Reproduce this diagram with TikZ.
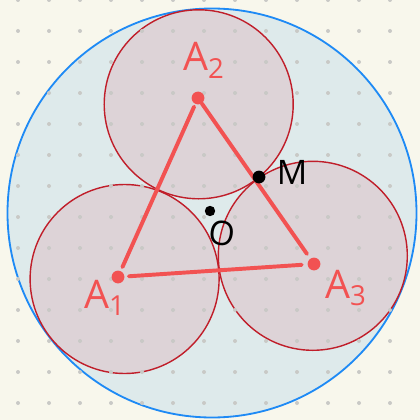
\documentclass[tikz,border=0pt]{standalone}
\usepackage{fontspec}
\setmainfont{Open Sans}
\definecolor{paper}{HTML}{F8F7EC}
\definecolor{griddot}{HTML}{C9C9C6}
\definecolor{bigfill}{HTML}{DEEAEB}
\definecolor{bigline}{HTML}{1E8AF5}
\definecolor{smallfill}{HTML}{DDD3D7}
\definecolor{smallline}{HTML}{C01E2A}
\definecolor{coral}{HTML}{F25252}

\begin{document}
\begin{tikzpicture}[x=0.025cm, y=-0.025cm,
    reddot/.style={circle, fill=coral, inner sep=0pt, minimum size=0.32cm},
    blackdot/.style={circle, fill=black, inner sep=0pt, minimum size=#1},
    edge/.style={coral, line width=2.8pt, line cap=round},
    redlabel/.style={coral, font=\fontsize{28}{30}\selectfont},
    blacklabel/.style={black, font=\fontsize{24}{26}\selectfont}]
            % Background
            \fill[paper] (0,0) rectangle (420,420);
            \useasboundingbox (0,0) rectangle (420,420);

            % Circles
            \filldraw[fill=bigfill, draw=bigline, line width=1.3pt] (212,213) circle (204.5);
            \filldraw[fill=smallfill, draw=smallline, line width=1pt] (198.7,104.3) circle (94.5);
            \filldraw[fill=smallfill, draw=smallline, line width=1pt] (124.6,279) circle (94.5);
            \filldraw[fill=smallfill, draw=smallline, line width=1pt] (312.8,255.8) circle (94.5);

            % Dot grid
            \foreach \i in {0,...,12}
                \foreach \j in {0,...,13}
                    \fill[griddot] (18+31*\i, 31*\j) circle (2);

            % Nodes
            \node[reddot] (A2) at (198,98) {};
            \node[reddot] (A1) at (118,277) {};
            \node[reddot] (A3) at (314,264) {};

            % Edges
            \draw[edge, shorten <=2pt, shorten >=3pt] (A2) -- (A1);
            \draw[edge, shorten <=0pt, shorten >=4pt] (A2) -- (A3);
            \draw[edge, shorten <=3pt, shorten >=4pt] (A1) -- (A3);

            % Points
            \node[blackdot=0.32cm] (M) at (259,177) {};
            \node[blackdot=0.26cm] (O) at (210,211) {};

            % Labels
            \node[redlabel] (labA2) at (204,60) {A\textsubscript{2}};
            \node[redlabel] (labA1) at (105,298) {A\textsubscript{1}};
            \node[redlabel] (labA3) at (346,288) {A\textsubscript{3}};
            \node[blacklabel] (labM) at (292,172) {M};
            \node[blacklabel, rotate=-8] (labO) at (222,233) {O};
        \end{tikzpicture}
\end{document}
